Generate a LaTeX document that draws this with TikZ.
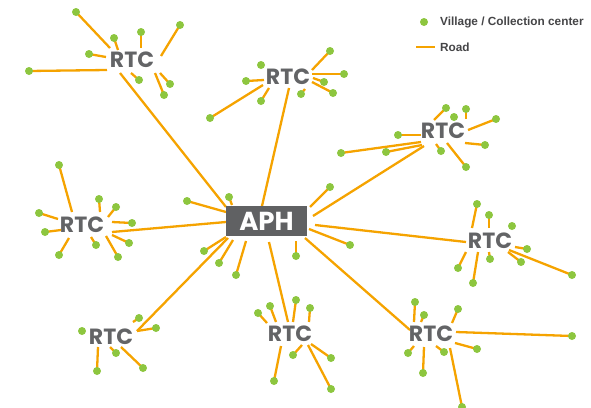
\documentclass[tikz,border=0pt]{standalone}
\usepackage{fontspec}
\usetikzlibrary{backgrounds}
\newfontfamily\rtcfont{Poppins}
\newfontfamily\legfont{Liberation Sans}
\definecolor{roadorange}{HTML}{F5A300}
\definecolor{villagegreen}{HTML}{8DC63F}
\definecolor{labelgray}{HTML}{636466}
\definecolor{boxgray}{HTML}{606163}
\definecolor{legendgray}{HTML}{454547}
\tikzset{
  road/.style={draw=roadorange, line width=2.3pt},
  village/.style={circle, fill=villagegreen, inner sep=0pt, minimum size=8pt},
  rtc/.style={font=\rtcfont\bfseries\fontsize{22}{22}\selectfont, text=labelgray, inner sep=0pt},
  aph/.style={fill=boxgray, text=white, inner sep=0pt, minimum width=81pt, minimum height=30pt,
              font=\rtcfont\bfseries\fontsize{26}{26}\selectfont},
  legtext/.style={font=\legfont\bfseries\fontsize{11.8}{12}\selectfont, text=legendgray, anchor=west, inner sep=0pt}
}
% road from a hub (with an offset from its centre) to a village
\newcommand\rd[3]{\draw[road] ([shift={(#2)}]#1.center) -- (#3.center);}
\begin{document}
\begin{tikzpicture}[x=1pt, y=-1pt]
\useasboundingbox (0,0) rectangle (591,407);
\clip (0,0) rectangle (591,407);

% hubs
\node[aph] (aph) at (266.5,221) {APH};
\node[rtc] (r1) at (132,60) {RTC};
\node[rtc] (r2) at (288,77) {RTC};
\node[rtc] (r3) at (443,131) {RTC};
\node[rtc] (r4) at (82,225) {RTC};
\node[rtc] (r5) at (490,241) {RTC};
\node[rtc] (r6) at (111,337) {RTC};
\node[rtc] (r7) at (290,334) {RTC};
\node[rtc] (r8) at (431,334) {RTC};

% villages around the APH
\node[village] (va) at (187,201) {};
\node[village] (vb) at (229,197) {};
\node[village] (vc) at (330,187) {};
\node[village] (vd) at (204,251) {};
\node[village] (ve) at (219,263) {};
\node[village] (vf) at (236,275) {};
\node[village] (vg) at (296,256) {};
\node[village] (vh) at (350,245) {};

% cluster 1
\node[village] (a1) at (76,12) {};
\node[village] (b1) at (114,38) {};
\node[village] (c1) at (141,32) {};
\node[village] (d1) at (180,25) {};
\node[village] (e1) at (89,54) {};
\node[village] (f1) at (29,71) {};
\node[village] (g1) at (139,80) {};
\node[village] (h1) at (170,84) {};
\node[village] (i1) at (164,95) {};

% cluster 2
\node[village] (a2) at (330,51) {};
\node[village] (b2) at (344,74) {};
\node[village] (c2) at (324,82) {};
\node[village] (d2) at (333,93) {};
\node[village] (e2) at (261,65) {};
\node[village] (f2) at (246,81) {};
\node[village] (g2) at (261,101) {};
\node[village] (h2) at (301,94) {};
\node[village] (i2) at (210,118) {};

% cluster 3
\node[village] (a3) at (446,108) {};
\node[village] (b3) at (466,109) {};
\node[village] (c3) at (454,117) {};
\node[village] (d3) at (496,119) {};
\node[village] (e3) at (398,135) {};
\node[village] (f3) at (341,153) {};
\node[village] (g3) at (386,152) {};
\node[village] (h3) at (441,151) {};
\node[village] (i3) at (485,145) {};
\node[village] (j3) at (466,167) {};

% cluster 4
\node[village] (a4) at (59,165) {};
\node[village] (b4) at (99,199) {};
\node[village] (c4) at (116,207) {};
\node[village] (d4) at (39,213) {};
\node[village] (e4) at (132,223) {};
\node[village] (f4) at (45,232) {};
\node[village] (g4) at (129,243) {};
\node[village] (h4) at (59,255) {};
\node[village] (i4) at (96,245) {};
\node[village] (j4) at (118,257) {};

% cluster 5
\node[village] (a5) at (477,204) {};
\node[village] (b5) at (489,215) {};
\node[village] (c5) at (512,226) {};
\node[village] (d5) at (527,249) {};
\node[village] (e5) at (521,262) {};
\node[village] (f5) at (572,275) {};
\node[village] (g5) at (458,268) {};
\node[village] (h5) at (473,283) {};
\node[village] (i5) at (490,259) {};

% cluster 6
\node[village] (a6) at (82,331) {};
\node[village] (b6) at (139,318) {};
\node[village] (c6) at (156,328) {};
\node[village] (d6) at (97,371) {};
\node[village] (e6) at (116,353) {};
\node[village] (f6) at (143,368) {};

% cluster 7
\node[village] (a7) at (258,313) {};
\node[village] (b7) at (270,306) {};
\node[village] (c7) at (296,300) {};
\node[village] (d7) at (310,308) {};
\node[village] (e7) at (293,355) {};
\node[village] (f7) at (331,358) {};
\node[village] (g7) at (274,381) {};
\node[village] (h7) at (331,389) {};

% cluster 8
\node[village] (a8) at (415,302) {};
\node[village] (b8) at (424,315) {};
\node[village] (c8) at (458,309) {};
\node[village] (d8) at (572,336) {};
\node[village] (e8) at (477,349) {};
\node[village] (f8) at (408,353) {};
\node[village] (g8) at (444,352) {};
\node[village] (h8) at (423,373) {};
\node[village] (i8) at (462,407) {};

% legend
\node[village] (legdot) at (424,22) {};
\node[legtext] (legv) at (440,22) {Village / Collection center};
\coordinate (legl) at (416,47);
\coordinate (legr) at (435,47);
\node[legtext] (legr2) at (440,47.5) {Road};

\begin{scope}[on background layer]
  % trunk roads between APH and RTCs
  \draw[road] ([shift={(-12,13)}]r1.center) -- ([shift={(-40.5,-14)}]aph.center);
  \draw[road] ([shift={(1,11)}]r2.center) -- ([shift={(-4.5,-15)}]aph.center);
  \draw[road] ([shift={(-19,15)}]r3.center) -- ([shift={(46.5,-5)}]aph.center);
  \draw[road] ([shift={(30,7)}]r4.center) -- ([shift={(-40.5,1)}]aph.center);
  \draw[road] ([shift={(-24,1)}]r5.center) -- ([shift={(48.5,4)}]aph.center);
  \draw[road] ([shift={(26,-6)}]r6.center) -- ([shift={(-38.5,17)}]aph.center);
  \draw[road] ([shift={(-2,-12)}]r7.center) -- ([shift={(2.5,21)}]aph.center);
  \draw[road] ([shift={(-21,-4)}]r8.center) -- ([shift={(38.5,17)}]aph.center);

  % APH feeders
  \rd{aph}{-40.5,-9}{va}
  \rd{aph}{-34.5,-16}{vb}
  \rd{aph}{43.5,-14}{vc}
  \rd{aph}{-40.5,16}{vd}
  \rd{aph}{-33.5,19}{ve}
  \rd{aph}{-20.5,20}{vf}
  \rd{aph}{29.5,20}{vg}
  \rd{aph}{42.5,8}{vh}

  % cluster 1
  \rd{r1}{-22,-12}{a1}
  \rd{r1}{-14,-10}{b1}
  \rd{r1}{9,-12}{c1}
  \rd{r1}{29,-4}{d1}
  \rd{r1}{-26,-3}{e1}
  \rd{r1}{-25,10}{f1}
  \rd{r1}{-1,13}{g1}
  \rd{r1}{28,13}{h1}
  \rd{r1}{23,13}{i1}

  % cluster 2
  \rd{r2}{24,-7}{a2}
  \rd{r2}{24,-3}{b2}
  \rd{r2}{25,1}{c2}
  \rd{r2}{24,5}{d2}
  \rd{r2}{-24,3}{f2}
  \rd{r2}{-19,11}{g2}
  \rd{r2}{17,12}{h2}
  \rd{r2}{-25,8}{i2}

  % cluster 3
  \rd{r3}{-9,-11}{a3}
  \rd{r3}{23,-12}{b3}
  \rd{r3}{25,-1}{d3}
  \rd{r3}{-22,4}{e3}
  \rd{r3}{-22,11}{f3}
  \rd{r3}{-21,14}{g3}
  \rd{r3}{-7,13}{h3}
  \rd{r3}{22,12}{i3}
  \rd{r3}{4,12}{j3}

  % cluster 4
  \rd{r4}{-10,-13}{a4}
  \rd{r4}{18,-13}{b4}
  \rd{r4}{26,-8}{c4}
  \rd{r4}{-24,-6}{d4}
  \rd{r4}{30,-3}{e4}
  \rd{r4}{-21,5}{f4}
  \rd{r4}{30,10}{g4}
  \rd{r4}{-13,13}{h4}
  \rd{r4}{9,12}{i4}
  \rd{r4}{24,11}{j4}

  % cluster 5
  \rd{r5}{-18,-13}{a5}
  \rd{r5}{-1,-13}{b5}
  \rd{r5}{25,6}{d5}
  \rd{r5}{18,11}{e5}
  \rd{r5}{19,9}{f5}
  \rd{r5}{-24,11}{g5}
  \rd{r5}{-12,11}{h5}
  \rd{r5}{-1,11}{i5}

  % cluster 6
  \rd{r6}{22,-15}{b6}
  \rd{r6}{26,-6}{c6}
  \rd{r6}{-13,10}{d6}
  \rd{r6}{-1,10}{e6}
  \rd{r6}{10,10}{f6}

  % cluster 7
  \rd{r7}{-23,-11}{a7}
  \rd{r7}{-14,-12}{b7}
  \rd{r7}{3,-12}{c7}
  \rd{r7}{19,-12}{d7}
  \rd{r7}{12,11}{e7}
  \rd{r7}{21,10}{f7}
  \rd{r7}{-9,12}{g7}
  \rd{r7}{18,11}{h7}

  % cluster 8
  \rd{r8}{-17,-12}{a8}
  \rd{r8}{-10,-12}{b8}
  \rd{r8}{21,-11}{c8}
  \rd{r8}{25,-2}{d8}
  \rd{r8}{24,9}{e8}
  \rd{r8}{-17,12}{f8}
  \rd{r8}{5,12}{g8}
  \rd{r8}{-7,13}{h8}
  \rd{r8}{19,14}{i8}

  % legend road sample
  \draw[road] (legl) -- (legr);
\end{scope}
\end{tikzpicture}
\end{document}
